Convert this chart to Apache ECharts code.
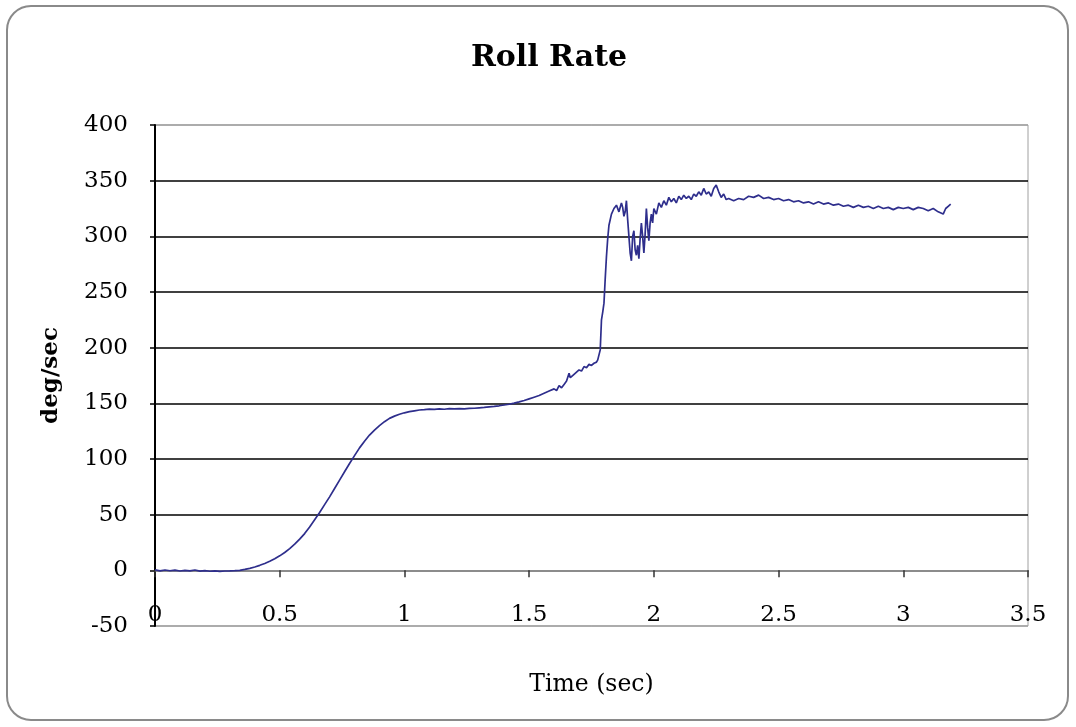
<!DOCTYPE html>
<html><head><meta charset="utf-8">
<script src="https://cdn.jsdelivr.net/npm/echarts@6/dist/echarts.min.js"></script>
<style>html,body{margin:0;padding:0;background:#fff}#c{width:1076px;height:727px}</style>
</head><body><div id="c"></div>
<script>
const timeSec = [0,0.02,0.04,0.06,0.08,0.10,0.12,0.14,0.16,0.18,0.20,0.22,0.24,0.26,0.28,0.30,0.32,0.34,0.36,0.38,0.40,0.42,0.44,0.46,0.48,0.50,0.52,0.54,0.56,0.58,0.60,0.62,0.64,0.66,0.68,0.70,0.72,0.74,0.76,0.78,0.80,0.82,0.84,0.86,0.88,0.90,0.92,0.94,0.96,0.98,1.00,1.02,1.04,1.06,1.08,1.10,1.12,1.14,1.16,1.18,1.20,1.22,1.24,1.26,1.28,1.30,1.32,1.34,1.36,1.38,1.40,1.42,1.44,1.46,1.48,1.50,1.52,1.54,1.56,1.58,1.60,1.61,1.62,1.63,1.64,1.65,1.66,1.665,1.67,1.68,1.69,1.70,1.71,1.72,1.73,1.74,1.75,1.76,1.77,1.775,1.78,1.785,1.79,1.795,1.80,1.805,1.81,1.815,1.82,1.83,1.84,1.85,1.86,1.87,1.875,1.88,1.885,1.89,1.895,1.90,1.905,1.91,1.915,1.92,1.925,1.93,1.935,1.94,1.945,1.95,1.955,1.96,1.965,1.97,1.975,1.98,1.985,1.99,1.995,2.00,2.01,2.02,2.03,2.04,2.05,2.06,2.07,2.08,2.09,2.10,2.11,2.12,2.13,2.14,2.15,2.16,2.17,2.18,2.19,2.20,2.21,2.22,2.23,2.24,2.25,2.26,2.27,2.28,2.29,2.30,2.32,2.34,2.36,2.38,2.40,2.42,2.44,2.46,2.48,2.50,2.52,2.54,2.56,2.58,2.60,2.62,2.64,2.66,2.68,2.70,2.72,2.74,2.76,2.78,2.80,2.82,2.84,2.86,2.88,2.90,2.92,2.94,2.96,2.98,3.00,3.02,3.04,3.06,3.08,3.10,3.12,3.14,3.16,3.17,3.18,3.19];
const rollRate = [0.5,-0.5,0.3,-0.4,0.2,-0.6,0,-0.5,0.3,-0.7,-0.2,-0.8,-0.5,-0.9,-0.6,-0.5,-0.3,0,0.8,1.8,3,4.5,6.2,8.2,10.5,13,16,19.5,23.5,28,33,39,45.5,52,59,66,73.5,81,88.5,96,103,110,116,121.5,126,130,133.5,136.5,138.5,140.2,141.5,142.5,143.3,144,144.3,144.8,144.5,145,144.7,145.2,145,145.3,145,145.5,145.6,146,146.3,146.8,147.2,147.8,148.5,149.2,150.2,151.3,152.5,154,155.5,157,159,161,163,161.5,166,164,167,170,177,173,172,176,178,180,179,183,182,185,184,186,187,189,190,198,225,232,240,262,282,298,310,320,325,328,322,330,326,318,322,332,315,300,285,278,300,305,288,283,292,280,298,312,300,285,302,325,308,296,312,320,312,325,320,330,326,332,328,335,331,334,330,336,333,337,334,336,333,338,336,340,337,343,338,340,336,343,346,340,335,338,333,334,332,334,333,336,335,337,334,335,333,334,332,333,331,332,330,331,329,331,329,330,328,329,327,328,326,328,326,327,325,327,325,326,324,326,325,326,324,326,325,323,325,322,320,325,327,329];
const yTicks = {min: -50, max: 400, step: 50};
const xTicks = {min: 0, max: 3.5, step: 0.5};

const serif = 'DejaVu Serif';
const chart = echarts.init(document.getElementById('c'), null, {renderer: 'canvas'});
const splitColors = ['#a0a0a0','#a0a0a0','#000','#000','#000','#000','#000','#000','#000','#a0a0a0'];
chart.setOption({
  animation: false,
  backgroundColor: '#fff',
  title: {
    text: 'Roll Rate', left: 549, top: 43, textAlign: 'center', padding: 0,
    textStyle: {fontFamily: serif, fontWeight: 'bold', fontSize: 30, color: '#000'}
  },
  graphic: [{
    type: 'rect', silent: true, z: -1,
    shape: {x: 7, y: 6, width: 1061, height: 714, r: 24},
    style: {fill: 'none', stroke: '#8a8a8a', lineWidth: 2}
  }],
  grid: {left: 155, right: 48, top: 125, bottom: 101, show: true, borderColor: '#a0a0a0', borderWidth: 1, backgroundColor: 'transparent'},
  xAxis: [{
    type: 'value', min: xTicks.min, max: xTicks.max, interval: xTicks.step, position: 'bottom',
    axisLine: {show: true, onZero: true, onZeroAxisIndex: 0, lineStyle: {color: '#8c8c8c', width: 2}},
    axisTick: {show: true, length: 7, inside: false, lineStyle: {color: '#333', width: 1.5}},
    axisLabel: {show: false}, splitLine: {show: false}
  }, {
    type: 'value', min: xTicks.min, max: xTicks.max, interval: xTicks.step, position: 'bottom',
    axisLine: {show: false, onZero: false}, axisTick: {show: false}, splitLine: {show: false},
    axisLabel: {show: true, margin: 1, verticalAlign: 'bottom', fontFamily: serif, fontSize: 23, color: '#000'},
    name: 'Time (sec)', nameLocation: 'middle', nameGap: 47,
    nameTextStyle: {fontFamily: serif, fontSize: 23.5, color: '#000'}
  }],
  yAxis: [{
    type: 'value', min: yTicks.min, max: yTicks.max, interval: yTicks.step,
    axisLine: {show: true, onZero: false, lineStyle: {color: '#000', width: 2}},
    axisTick: {show: true, length: 5, lineStyle: {color: '#000', width: 1.5}},
    axisLabel: {margin: 27, fontFamily: serif, fontSize: 23, color: '#000', padding: [5, 0, 0, 0]},
    splitLine: {show: true, lineStyle: {color: splitColors, width: 1.5}},
    name: 'deg/sec', nameLocation: 'middle', nameGap: 92, nameRotate: 90,
    nameTextStyle: {fontFamily: serif, fontWeight: 'bold', fontSize: 23, color: '#000'}
  }],
  series: [{
    type: 'line', xAxisIndex: 0, yAxisIndex: 0, showSymbol: false, symbol: 'none',
    data: timeSec.map((t, i) => [t, rollRate[i]]),
    lineStyle: {color: '#2e2e8c', width: 1.7}
  }]
});
</script>
</body></html>
